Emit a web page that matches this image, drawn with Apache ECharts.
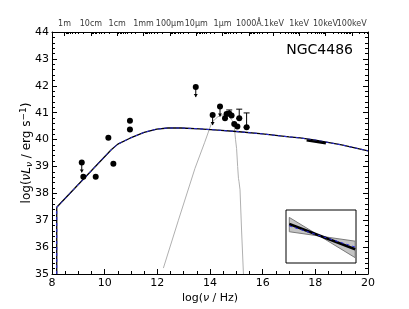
<!DOCTYPE html>
<html><head><meta charset="utf-8">
<script src="https://cdn.jsdelivr.net/npm/echarts@6/dist/echarts.min.js"></script>
<style>html,body{margin:0;padding:0;background:#fff}#c{width:409px;height:309px}</style>
</head><body><div id="c"></div>
<script>
// ---- data ----
const modelX = [8.18, 8.18, 10.25, 10.5, 10.96, 11.5, 11.98, 12.4, 12.9, 13.6, 14.3, 15.0, 16.0, 17.0, 17.42, 18.0, 19.0, 20.0];
const modelY = [35.0, 37.48, 39.62, 39.83, 40.05, 40.27, 40.39, 40.43, 40.43, 40.40, 40.35, 40.30, 40.21, 40.10, 40.06, 39.98, 39.80, 39.58];
const hostX = [12.23, 12.8, 13.43, 13.8, 14.07, 14.3, 14.5, 14.7, 14.85, 14.93, 14.97, 15.01, 15.05, 15.08, 15.1, 15.14, 15.2, 15.27];
const hostY = [35.22, 37.0, 38.93, 39.9, 40.64, 40.85, 40.92, 40.88, 40.7, 40.4, 40.0, 39.66, 39.0, 38.56, 38.45, 38.13, 36.6, 35.0];
const detX = [9.19, 9.66, 10.14, 10.33, 10.96, 10.96, 14.57, 14.63, 14.73, 14.82, 14.92, 15.04, 15.11, 15.39];
const detY = [38.62, 38.62, 40.07, 39.1, 40.70, 40.37, 40.79, 40.95, 40.97, 40.89, 40.58, 40.49, 40.79, 40.46];
const ulX = [9.13, 13.46, 14.10, 14.38];
const ulY = [39.15, 41.95, 40.91, 41.23];
const errX = [14.73, 15.11, 15.39];
const errLo = [40.97, 40.79, 40.46];
const errHi = [41.10, 41.13, 40.99];
const xrayX = [17.67, 18.40];
const xrayY = [39.97, 39.86];
// inset (2-10 keV bow tie)
const bowX = [17.64, 18.44];
const bowSteep = [40.18, 39.80];
const bowShallow = [40.045, 39.956];
const fitBlack = [40.118, 39.88];
const fitBlue = [40.10, 39.90];
// top axis
const topLabels = ['1m','10cm','1cm','1mm','100\u03bcm','10\u03bcm','1\u03bcm','1000\u00c5','.1keV','1keV','10keV','100keV'];
const topTicks = [8.477, 9.477, 10.477, 11.477, 12.477, 13.477, 14.477, 15.477, 16.383, 17.383, 18.383, 19.383];
const topY = 44;

// minor ticks for top axis (log-decade subdivisions)
const topMinor = [];
for (let i = 0; i < 8; i++) for (let k = 2; k <= 9; k++) topMinor.push(topTicks[i] + 1 - Math.log10(k));
for (let i = 8; i < 12; i++) for (let k = 2; k <= 9; k++) { const v = topTicks[i] + Math.log10(k); if (v < 20) topMinor.push(v); }

const zip = (a, b) => a.map((v, i) => [v, b[i]]);
const FONT = 'DejaVu Sans';
const chart = echarts.init(document.getElementById('c'), null, {renderer: 'canvas'});
const axLine = {show: true, lineStyle: {color: '#000', width: 1}};

chart.setOption({
  animation: false,
  backgroundColor: '#fff',
  title: {text: 'NGC4486', right: 51, top: 38, textStyle: {fontFamily: FONT, fontSize: 14, fontWeight: 'normal', color: '#000'}},
  grid: [
    {left: 52, top: 32, width: 316, height: 245, show: false},
    {left: 286, top: 210, width: 70, height: 53, show: true, borderColor: '#000', borderWidth: 1, backgroundColor: '#fff', z: 5}
  ],
  xAxis: [
    {gridIndex: 0, type: 'value', min: 8, max: 20, interval: 2, position: 'bottom',
     axisLine: axLine, splitLine: {show: false},
     axisTick: {inside: true, length: 5, lineStyle: {color: '#000'}},
     minorTick: {show: true, splitNumber: 4, length: 3, lineStyle: {color: '#000'}},
     axisLabel: {fontFamily: FONT, fontSize: 11, color: '#000', margin: 4},
     name: '{n|log(}{i|\u03bd}{n| / Hz)}', nameLocation: 'middle', nameGap: 19, nameMoveOverlap: false,
     nameTextStyle: {rich: {n: {fontFamily: FONT, fontSize: 11, color: '#000'}, i: {fontFamily: FONT, fontSize: 11, fontStyle: 'italic', color: '#000'}}}},
    {gridIndex: 0, type: 'value', min: 8, max: 20, position: 'top',
     axisLine: axLine, splitLine: {show: false},
     axisTick: {inside: true, length: 4, customValues: topTicks, lineStyle: {color: '#000'}},
     axisLabel: {show: false}},
    {gridIndex: 0, type: 'value', min: 8, max: 20, position: 'top',
     axisLine: {show: false}, splitLine: {show: false},
     axisTick: {inside: true, length: 2, customValues: topMinor, lineStyle: {color: '#000'}},
     axisLabel: {show: false}},
    {gridIndex: 1, type: 'value', min: 17.6, max: 18.45, show: false}
  ],
  yAxis: [
    {gridIndex: 0, type: 'value', min: 35, max: 44, interval: 1, position: 'left',
     axisLine: axLine, splitLine: {show: false},
     axisTick: {inside: true, length: 5, lineStyle: {color: '#000'}},
     minorTick: {show: true, splitNumber: 5, length: 3, lineStyle: {color: '#000'}},
     axisLabel: {fontFamily: FONT, fontSize: 11, color: '#000', margin: 3},
     name: '{n|log(}{i|\u03bdL}{s|\u03bd}{n| / erg s}{p|\u22121}{n|)}', nameLocation: 'middle', nameGap: 18, nameRotate: 90,
     nameMoveOverlap: false,
     nameTextStyle: {rich: {
       n: {fontFamily: FONT, fontSize: 12, color: '#000', verticalAlign: 'middle'},
       i: {fontFamily: FONT, fontSize: 12, fontStyle: 'italic', color: '#000', verticalAlign: 'middle'},
       s: {fontFamily: FONT, fontSize: 9, fontStyle: 'italic', color: '#000', verticalAlign: 'bottom', padding: [6, 0, 0, 0]},
       p: {fontFamily: FONT, fontSize: 9, color: '#000', verticalAlign: 'top', padding: [0, 0, 6, 0]}}}},
    {gridIndex: 0, type: 'value', min: 35, max: 44, interval: 1, position: 'right',
     axisLine: axLine, splitLine: {show: false},
     axisTick: {inside: true, length: 5, lineStyle: {color: '#000'}},
     minorTick: {show: true, splitNumber: 5, length: 3, lineStyle: {color: '#000'}},
     axisLabel: {show: false}},
    {gridIndex: 1, type: 'value', min: 39.75, max: 40.25, show: false}
  ],
  series: [
    {type: 'scatter', xAxisIndex: 1, yAxisIndex: 0, clip: false, silent: true, symbolSize: 0,
     data: topTicks.map((t, i) => ({value: [t, topY], name: topLabels[i]})),
     label: {show: true, position: 'top', distance: 4, formatter: p => p.name, fontFamily: FONT, fontSize: 8, color: '#000'},
     labelLayout: {hideOverlap: false}},
    {type: 'line', xAxisIndex: 0, yAxisIndex: 0, data: zip(hostX, hostY), showSymbol: false,
     lineStyle: {color: '#b0b0b0', width: 1}, z: 2},
    {type: 'line', xAxisIndex: 0, yAxisIndex: 0, data: zip(modelX, modelY), showSymbol: false,
     lineStyle: {color: '#000', width: 1.3}, z: 3},
    {type: 'line', xAxisIndex: 0, yAxisIndex: 0, data: zip(modelX, modelY), showSymbol: false,
     lineStyle: {color: '#2a2ae0', width: 1, type: [3, 3]}, z: 4},
    {type: 'line', xAxisIndex: 0, yAxisIndex: 0, data: zip(xrayX, xrayY), showSymbol: false,
     lineStyle: {color: '#000', width: 2.5}, z: 5},
    {type: 'custom', xAxisIndex: 0, yAxisIndex: 0, z: 6,
     data: errX.map((x, i) => [x, errLo[i], errHi[i]]),
     renderItem: (params, api) => {
       const lo = api.coord([api.value(0), api.value(1)]);
       const hi = api.coord([api.value(0), api.value(2)]);
       const st = {stroke: '#000', lineWidth: 1};
       return {type: 'group', children: [
         {type: 'line', shape: {x1: lo[0], y1: lo[1], x2: hi[0], y2: hi[1]}, style: st},
         {type: 'line', shape: {x1: hi[0] - 3, y1: hi[1], x2: hi[0] + 3, y2: hi[1]}, style: st},
         {type: 'line', shape: {x1: lo[0] - 3, y1: lo[1], x2: lo[0] + 3, y2: lo[1]}, style: st}
       ]};
     }},
    {type: 'custom', xAxisIndex: 0, yAxisIndex: 0, z: 6,
     data: zip(ulX, ulY),
     renderItem: (params, api) => {
       const p = api.coord([api.value(0), api.value(1)]);
       const len = 10;
       const st = {stroke: '#000', lineWidth: 1};
       return {type: 'group', children: [
         {type: 'line', shape: {x1: p[0], y1: p[1], x2: p[0], y2: p[1] + len}, style: st},
         {type: 'polygon', shape: {points: [[p[0] - 2, p[1] + len - 3], [p[0] + 2, p[1] + len - 3], [p[0], p[1] + len]]}, style: {fill: '#000'}},
         {type: 'circle', shape: {cx: p[0], cy: p[1], r: 3}, style: {fill: '#000'}}
       ]};
     }},
    {type: 'scatter', xAxisIndex: 0, yAxisIndex: 0, data: zip(detX, detY), symbol: 'circle', symbolSize: 6,
     itemStyle: {color: '#000', opacity: 1}, z: 7},
    // inset
    {type: 'custom', xAxisIndex: 3, yAxisIndex: 2, z: 10, data: [[bowX[0], bowSteep[0]]],
     renderItem: (params, api) => {
       const pts = [
         api.coord([bowX[0], bowSteep[0]]), api.coord([bowX[1], bowSteep[1]]),
         api.coord([bowX[1], bowShallow[1]]), api.coord([bowX[0], bowShallow[0]])
       ];
       return {type: 'polygon', shape: {points: pts}, style: {fill: '#c4c4c4', stroke: '#7a7a7a', lineWidth: 1}};
     }},
    {type: 'line', xAxisIndex: 3, yAxisIndex: 2, data: zip(bowX, fitBlack), showSymbol: false,
     lineStyle: {color: '#000', width: 2.5}, z: 11},
    {type: 'line', xAxisIndex: 3, yAxisIndex: 2, data: zip(bowX, fitBlue), showSymbol: false,
     lineStyle: {color: '#2a2ae0', width: 1, type: [3, 3]}, z: 12}
  ]
});
</script></body></html>
